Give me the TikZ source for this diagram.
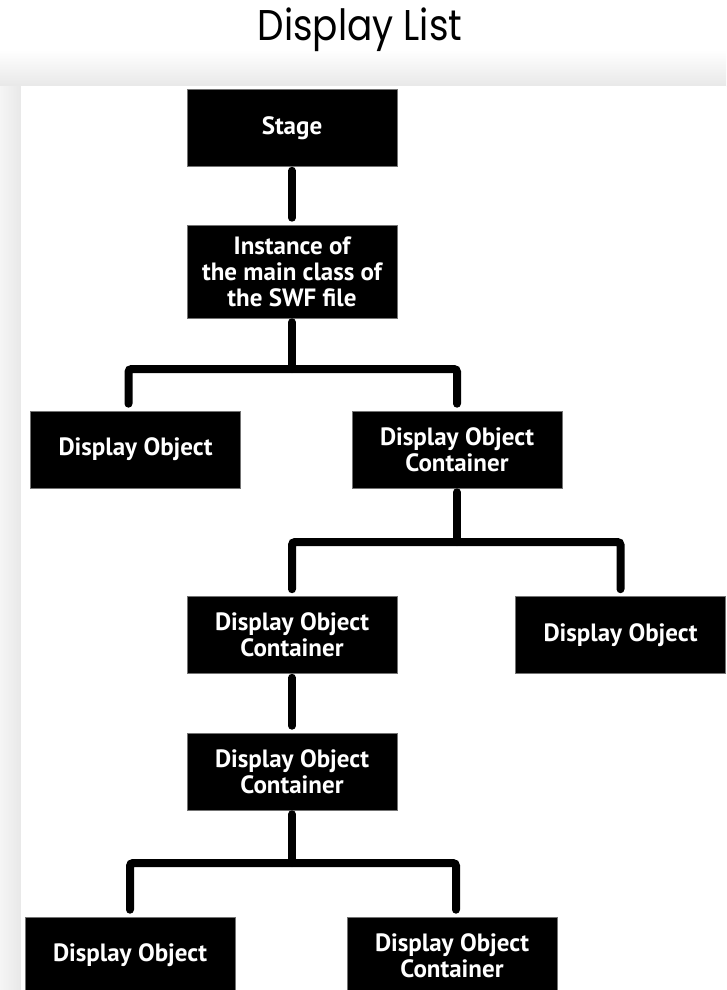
\documentclass[tikz,border=0pt]{standalone}
\usepackage{fontspec}
\newfontfamily\boxfont{PT Sans}
\newfontfamily\titlefont{Poppins}[FakeStretch=0.87]
\tikzset{
  listnode/.style = {align=center, inner sep=1pt, text centered, text=white,
    font=\boxfont\bfseries\fontsize{25}{26}\selectfont},
  dlbox/.style = {listnode, rectangle, fill=black, draw=black!55, line width=0.6pt,
    minimum width=210pt, minimum height=77pt},
  branch/.style = {line width=8pt, line cap=round, rounded corners=3pt,
    shorten <=7pt, shorten >=7pt},
  stem/.style = {branch, shorten <=4pt, shorten >=0pt}
}

\begin{document}
\begin{tikzpicture}[x=1pt, y=-1pt]
\useasboundingbox (0,0) rectangle (726,990);
\clip (0,0) rectangle (726,990);
% backdrop and sheet
\fill[white] (0,0) rectangle (726,990);
\shade[top color=white, bottom color=black!9] (0,50) rectangle (726,86);
\shade[left color=black!4, right color=black!9] (0,86) rectangle (21,990);
\fill[white] (21,86) rectangle (726,990);

\node[font=\titlefont\fontsize{43}{50}\selectfont, anchor=base] (title) at (360,41) {Display List};

\node[dlbox] (stage) at (292,128) {Stage};
\node[dlbox, minimum height=93pt] (inst) at (292,271.5) {Instance of\\the main class of\\the SWF file};
\node[dlbox] (do1) at (135.5,449.5) {Display Object};
\node[dlbox] (doc1) at (457,449.5) {Display Object\\Container};
\node[dlbox] (doc2) at (292,635) {Display Object\\Container};
\node[dlbox] (do2) at (620.5,635) {Display Object};
\node[dlbox] (doc3) at (292,771.5) {Display Object\\Container};
\node[dlbox] (do3) at (130,955.5) {Display Object};
\node[dlbox] (doc4) at (452,955.5) {Display Object\\Container};

% links
\coordinate (bar1) at (292,369);
\coordinate (bar2) at (457,542);
\coordinate (bar3) at (292,863);
\draw[branch, shorten <=4pt] (stage) -- (inst);
\draw[stem] (inst) -- (bar1);
\draw[branch] ([xshift=-7pt]do1.north) |- (bar1) -| (doc1.north);
\draw[stem] (doc1) -- (bar2);
\draw[branch] (doc2.north) |- (bar2) -| (do2.north);
\draw[branch, shorten <=4pt] (doc2) -- (doc3);
\draw[stem] (doc3) -- (bar3);
\draw[branch] (do3.north) |- (bar3) -| ([xshift=4pt]doc4.north);
\end{tikzpicture}
\end{document}
